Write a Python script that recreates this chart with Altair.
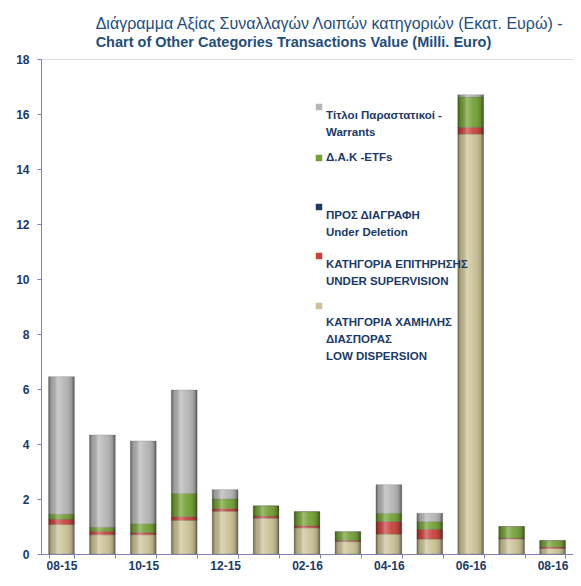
import altair as alt
import pandas as pd

months = ["08-15", "09-15", "10-15", "11-15", "12-15", "01-16", "02-16",
          "03-16", "04-16", "05-16", "06-16", "07-16", "08-16"]
shown_labels = ["08-15", "10-15", "12-15", "02-16", "04-16", "06-16", "08-16"]
y_ticks = [0, 2, 4, 6, 8, 10, 12, 14, 16, 18]

series = ["Low Dispersion", "Under Supervision", "Under Deletion", "ETFs", "Warrants"]
low_dispersion = [1.07, 0.70, 0.70, 1.22, 1.55, 1.30, 0.95, 0.45, 0.72, 0.54, 15.27, 0.55, 0.20]
under_supervision = [0.20, 0.13, 0.08, 0.14, 0.10, 0.08, 0.08, 0.05, 0.46, 0.36, 0.25, 0.03, 0.06]
under_deletion = [0.0] * 13
etfs = [0.18, 0.14, 0.32, 0.84, 0.35, 0.37, 0.51, 0.30, 0.30, 0.28, 1.10, 0.42, 0.23]
warrants = [5.00, 3.36, 3.01, 3.76, 0.34, 0.0, 0.0, 0.02, 1.04, 0.30, 0.08, 0.0, 0.0]
colors = ["#cbc397", "#c8433d", "#1f3864", "#74a136", "#b6b6b6"]

legend_lines = [
    ["Τίτλοι Παραστατικοί -", "Warrants"],
    ["Δ.Α.Κ -ETFs"],
    ["ΠΡΟΣ ΔΙΑΓΡΑΦΗ", "Under Deletion"],
    ["ΚΑΤΗΓΟΡΙΑ ΕΠΙΤΗΡΗΣΗΣ", "UNDER SUPERVISION"],
    ["ΚΑΤΗΓΟΡΙΑ ΧΑΜΗΛΗΣ", "ΔΙΑΣΠΟΡΑΣ", "LOW DISPERSION"],
]
legend_colors = ["#b6b6b6", "#74a136", "#1f3864", "#c8433d", "#cbc397"]

title_line1 = "Διάγραμμα Αξίας Συναλλαγών Λοιπών κατηγοριών (Εκατ.  Ευρώ) -"
title_line2 = " Chart of Other Categories Transactions Value (Milli. Euro)"

values_by_series = [low_dispersion, under_supervision, under_deletion, etfs, warrants]
rows = []
for i, (s, vals) in enumerate(zip(series, values_by_series)):
    for m, v in zip(months, vals):
        rows.append({"month": m, "series": s, "order": i, "value": v})
df = pd.DataFrame(rows)

NAVY = "#1b3a66"
AXIS = "#8080b8"
FONT = "Liberation Sans, Arial, sans-serif"

label_expr = "indexof(" + str(shown_labels).replace("'", '"') + ", datum.label) >= 0 ? datum.label : ''"

x_enc = alt.X("month:N", sort=months,
              scale=alt.Scale(paddingInner=0.37, paddingOuter=0.185),
              axis=alt.Axis(title=None, labelAngle=0, tickBand="extent", labelExpr=label_expr,
                            labelFontWeight="bold", labelColor=NAVY, labelFontSize=12, labelFont=FONT,
                            domainColor=AXIS, tickColor=AXIS, tickSize=4, labelPadding=2))
y_scale = alt.Scale(domain=[0, 18], nice=False)

bars = alt.Chart(df).mark_bar(stroke="#6e6a58", strokeWidth=0.6, strokeOpacity=0.5).encode(
    x=x_enc,
    y=alt.Y("value:Q", stack="zero", scale=y_scale,
            axis=alt.Axis(title=None, values=y_ticks, grid=False, labelFontWeight="bold",
                          labelColor=NAVY, labelFontSize=12, labelFont=FONT,
                          domainColor=AXIS, tickColor=AXIS, tickSize=4, labelPadding=8)),
    color=alt.Color("series:N", scale=alt.Scale(domain=series, range=colors), legend=None),
    order=alt.Order("order:Q"),
)

shade = alt.LinearGradient(
    gradient="linear", x1=0, y1=0, x2=1, y2=0,
    stops=[
        alt.GradientStop(offset=0, color="rgba(0,0,0,0.45)"),
        alt.GradientStop(offset=0.12, color="rgba(0,0,0,0.12)"),
        alt.GradientStop(offset=0.35, color="rgba(255,255,255,0.30)"),
        alt.GradientStop(offset=0.6, color="rgba(255,255,255,0.05)"),
        alt.GradientStop(offset=0.88, color="rgba(0,0,0,0.15)"),
        alt.GradientStop(offset=1, color="rgba(0,0,0,0.5)"),
    ],
)
overlay = alt.Chart(df).mark_bar(color=shade).encode(
    x=alt.X("month:N", sort=months),
    y=alt.Y("sum(value):Q", scale=y_scale),
)

legend_layers = []
legend_y = [48, 99, 148, 197, 247]
one = pd.DataFrame({"k": [0]})
for lines, col, ly in zip(legend_lines, legend_colors, legend_y):
    legend_layers.append(
        alt.Chart(one).mark_square(size=42, color=col, opacity=1).encode(
            x=alt.value(278), y=alt.value(ly)))
    legend_layers.append(
        alt.Chart(one).mark_text(text=lines, align="left", baseline="middle", fontSize=11.5,
                                 fontWeight="bold", font=FONT, color=NAVY, lineHeight=17).encode(
            x=alt.value(285), y=alt.value(ly + (len(lines) - 1) * 8.5)))

chart = alt.layer(bars, overlay, *legend_layers).properties(
    width=532, height=495,
    padding={"left": 33, "top": 51, "right": 0, "bottom": 19},
    autosize=alt.AutoSizeParams(type="none"),
    title=alt.TitleParams(text=title_line1, subtitle=title_line2, anchor="start", dx=80,
                          font=FONT, fontSize=16, fontWeight="normal", color="#1f4e79",
                          subtitleFont=FONT, subtitleFontSize=14.5, subtitleFontWeight="bold",
                          subtitleColor="#1f4e79", subtitlePadding=4, offset=4),
).configure_view(stroke=None).configure(background="white")

chart.save("out.html", embed_options={"renderer": "svg", "actions": False})
